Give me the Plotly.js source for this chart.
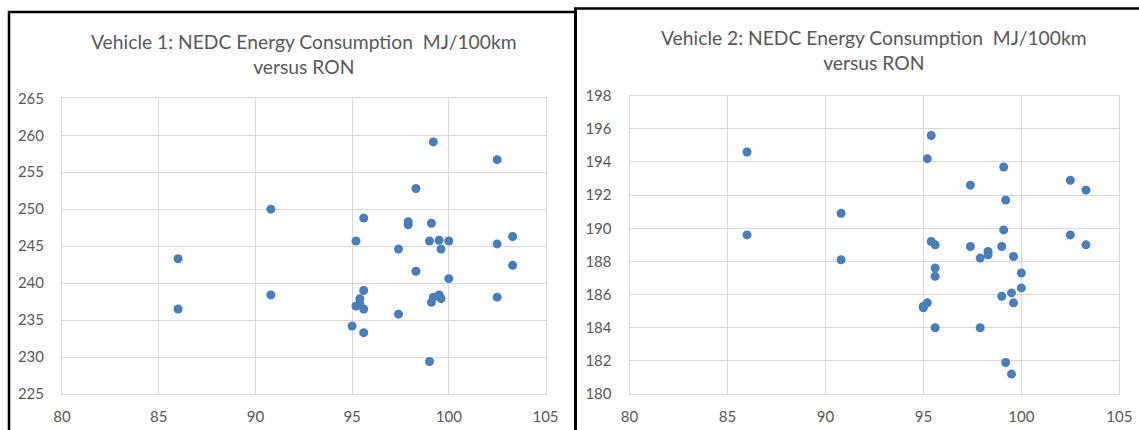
<!DOCTYPE html>
<html>
<head>
<meta charset="utf-8">
<script src="https://cdn.plot.ly/plotly-3.0.1.min.js"></script>
<style>
  html, body { margin: 0; padding: 0; background: #ffffff; }
  #chart { width: 1139px; height: 430px; }
</style>
</head>
<body>
<div id="chart"></div>
<script>
// ---- Data ----
const chartTitles = [
  "Vehicle 1: NEDC Energy Consumption  MJ/100km<br>versus RON",
  "Vehicle 2: NEDC Energy Consumption  MJ/100km<br>versus RON"
];

const ronVehicle1 = [
  86.0, 86.0, 90.8, 90.8,
  99.2, 102.5, 98.3,
  95.6, 97.9, 97.9, 99.1,
  95.2, 99.0, 99.5, 100.0,
  102.5, 103.3,
  97.4, 99.6,
  103.3, 98.3, 100.0,
  95.6, 95.4, 95.4, 95.2, 95.6,
  97.4,
  99.1, 99.2, 99.5, 99.6,
  102.5,
  95.0, 95.6,
  99.0
];
const energyVehicle1 = [
  243.3, 236.5, 250.0, 238.4,
  259.1, 256.7, 252.8,
  248.8, 248.3, 247.9, 248.1,
  245.7, 245.7, 245.8, 245.7,
  245.3, 246.3,
  244.6, 244.6,
  242.4, 241.6, 240.6,
  239.0, 237.9, 237.2, 236.9, 236.5,
  235.8,
  237.4, 238.1, 238.4, 237.9,
  238.1,
  234.2, 233.3,
  229.4
];

const ronVehicle2 = [
  86.0, 86.0, 90.8, 90.8,
  95.4, 95.2, 99.1, 97.4, 102.5, 103.3, 99.2,
  99.1, 102.5, 103.3,
  95.4, 95.6, 97.4, 99.0, 98.3, 98.3, 97.9, 99.6,
  95.6, 95.6, 100.0, 100.0,
  99.5, 99.0, 99.6,
  95.2, 95.0, 95.0,
  95.6, 97.9,
  99.2, 99.5
];
const energyVehicle2 = [
  194.6, 189.6, 190.9, 188.1,
  195.6, 194.2, 193.7, 192.6, 192.9, 192.3, 191.7,
  189.9, 189.6, 189.0,
  189.2, 189.0, 188.9, 188.9, 188.6, 188.4, 188.2, 188.3,
  187.6, 187.1, 187.3, 186.4,
  186.1, 185.9, 185.5,
  185.5, 185.3, 185.2,
  184.0, 184.0,
  181.9, 181.2
];

const xRange = [80, 105];
const xStep = 5;
const y1Range = [225, 265];
const y1Step = 5;
const y2Range = [180, 198];
const y2Step = 2;

// ---- Layout helpers (pixel -> paper) ----
const W = 1139, H = 430;
const px = v => v / W;
const py = v => 1 - v / H;

const markerColor = "#4a7ebb";
const gridColor = "#d9d9d9";
const textColor = "#595959";
const fontFamily = "Lato, 'Open Sans', sans-serif";

const traces = [
  {
    type: "scatter", mode: "markers",
    x: ronVehicle1, y: energyVehicle1,
    xaxis: "x", yaxis: "y",
    marker: { color: markerColor, size: 9 },
    showlegend: false, hoverinfo: "x+y"
  },
  {
    type: "scatter", mode: "markers",
    x: ronVehicle2, y: energyVehicle2,
    xaxis: "x2", yaxis: "y2",
    marker: { color: markerColor, size: 9 },
    showlegend: false, hoverinfo: "x+y"
  }
];

function xAxis(domain, anchor) {
  return {
    domain: domain, anchor: anchor,
    range: xRange, dtick: xStep, tick0: 80,
    showgrid: true, gridcolor: gridColor, gridwidth: 1,
    showline: true, linecolor: gridColor, linewidth: 1, mirror: true,
    zeroline: false, ticks: "",
    ticklabelstandoff: 9,
    tickfont: { family: fontFamily, size: 15, color: textColor },
    fixedrange: true
  };
}
function yAxis(domain, anchor, range, step) {
  return {
    domain: domain, anchor: anchor,
    range: range, dtick: step, tick0: range[0],
    showgrid: true, gridcolor: gridColor, gridwidth: 1,
    showline: true, linecolor: gridColor, linewidth: 1, mirror: true,
    zeroline: false, ticks: "",
    ticklabelstandoff: 14,
    tickfont: { family: fontFamily, size: 15, color: textColor },
    fixedrange: true
  };
}

const layout = {
  width: W, height: H,
  margin: { l: 0, r: 0, t: 0, b: 0, pad: 0 },
  paper_bgcolor: "#ffffff",
  plot_bgcolor: "#ffffff",
  showlegend: false,
  xaxis: xAxis([px(62), px(545.5)], "y"),
  yaxis: yAxis([py(394), py(98.3)], "x", y1Range, y1Step),
  xaxis2: xAxis([px(629.5), px(1119.3)], "y2"),
  yaxis2: yAxis([py(394), py(95.7)], "x2", y2Range, y2Step),
  annotations: [
    {
      xref: "paper", yref: "paper",
      x: px(303.7), y: py(54), xanchor: "center", yanchor: "middle",
      text: chartTitles[0], showarrow: false, align: "center",
      font: { family: fontFamily, size: 19.3, color: textColor }
    },
    {
      xref: "paper", yref: "paper",
      x: px(874.4), y: py(50), xanchor: "center", yanchor: "middle",
      text: chartTitles[1], showarrow: false, align: "center",
      font: { family: fontFamily, size: 19.3, color: textColor }
    }
  ],
  shapes: [
    // left chart frame
    { type: "line", xref: "paper", yref: "paper", x0: px(9), x1: px(9), y0: py(11), y1: py(432), line: { color: "#000", width: 2.5 } },
    { type: "line", xref: "paper", yref: "paper", x0: px(8), x1: px(576), y0: py(12), y1: py(12), line: { color: "#000", width: 2.5 } },
    { type: "line", xref: "paper", yref: "paper", x0: px(575.5), x1: px(575.5), y0: py(8), y1: py(432), line: { color: "#000", width: 3 } },
    // right chart frame
    { type: "line", xref: "paper", yref: "paper", x0: px(574), x1: px(1141), y0: py(8.5), y1: py(8.5), line: { color: "#000", width: 2.5 } }
  ]
};

Plotly.newPlot("chart", traces, layout, { displayModeBar: false, staticPlot: true });
</script>
</body>
</html>
